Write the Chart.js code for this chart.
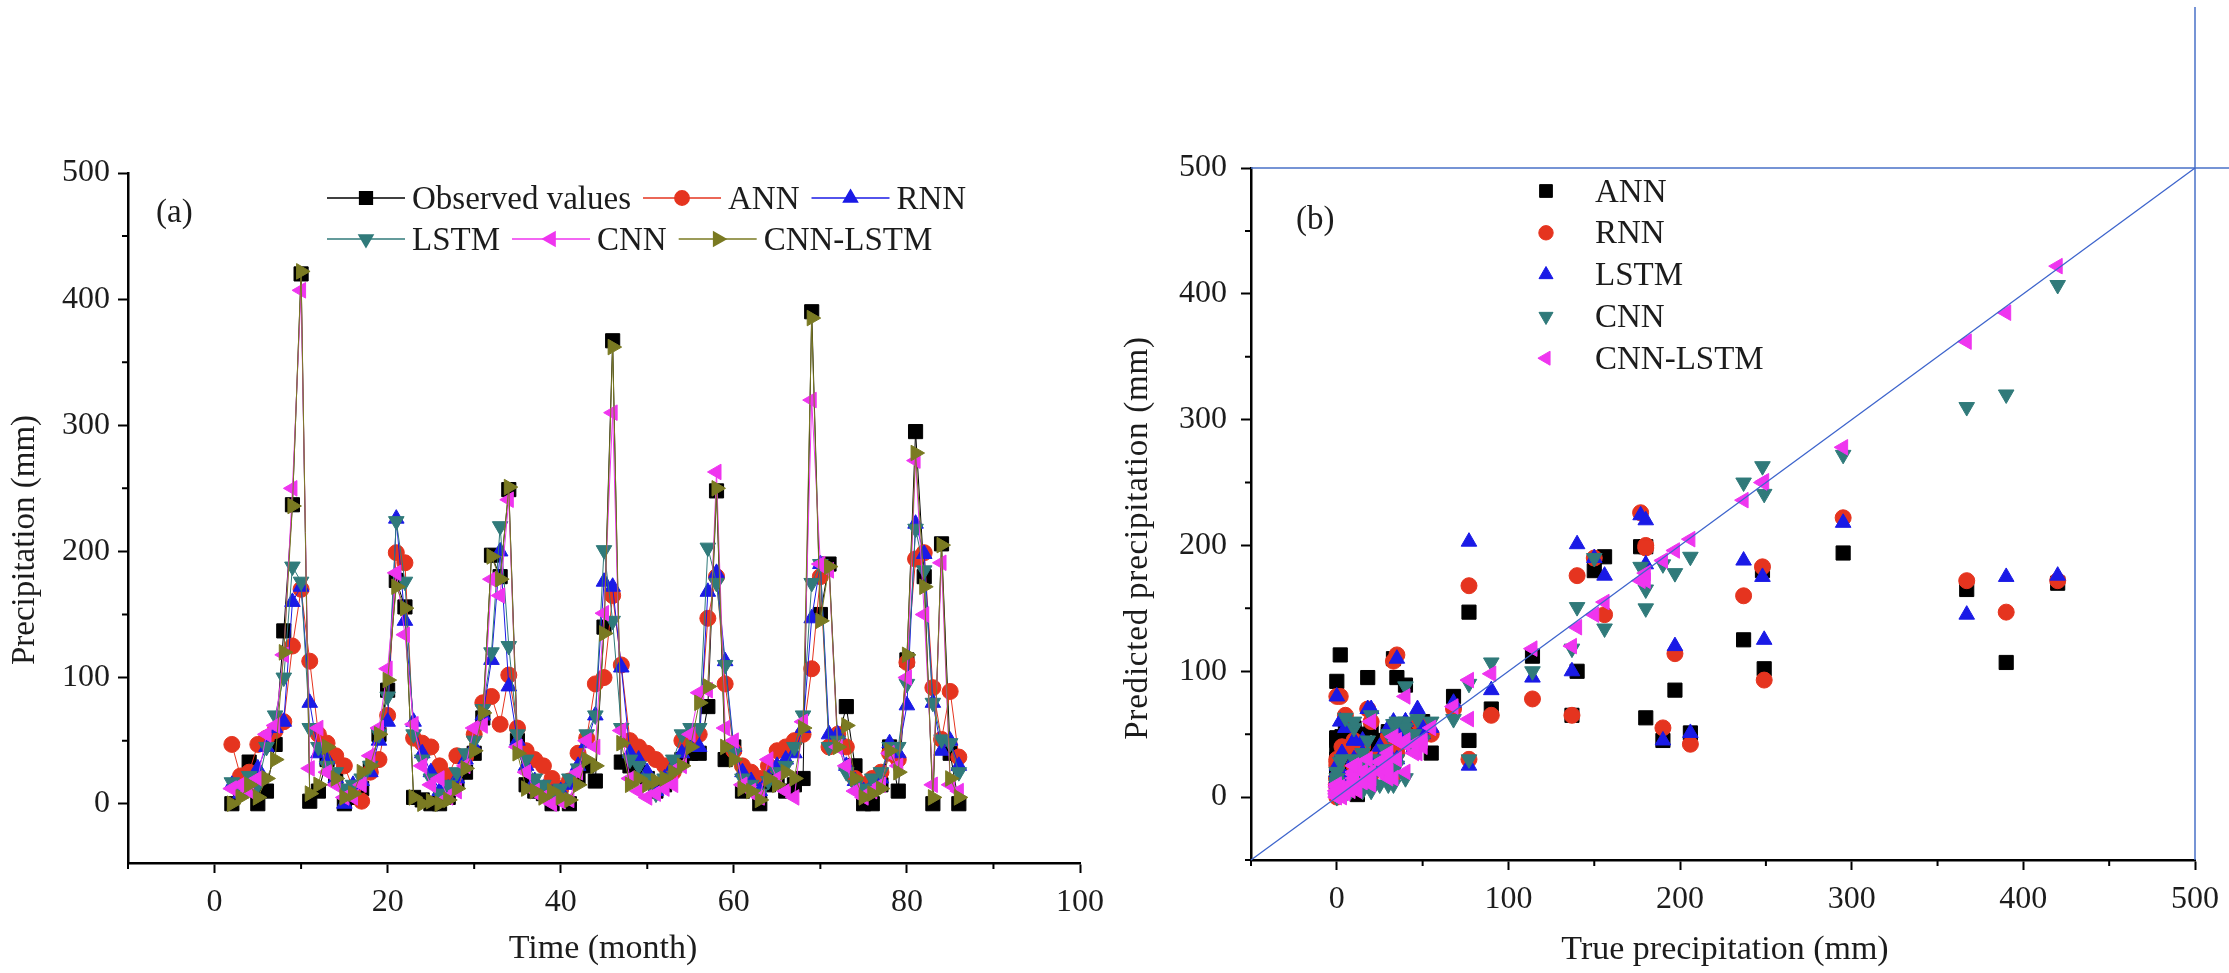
<!DOCTYPE html>
<html>
<head>
<meta charset="utf-8">
<script src="https://cdn.jsdelivr.net/npm/chart.js@4.4.1/dist/chart.umd.min.js"></script>
<style>
  html, body { margin: 0; padding: 0; background: #fff; }
  #wrap { position: relative; width: 2229px; height: 973px; overflow: hidden; background: #fff; }
  canvas { position: absolute; top: 0; }
  #c1 { left: 0; }
  #c2 { left: 1100px; }
</style>
</head>
<body>
<div id="wrap">
  <canvas id="c1" width="1115" height="973"></canvas>
  <canvas id="c2" width="1129" height="973"></canvas>
</div>
<script>
// months shown in panel (a)
const months = [2, 3, 4, 5, 6, 7, 8, 9, 10, 11, 12, 13, 14, 15, 16, 17, 18, 19, 20, 21,
  22, 23, 24, 25, 26, 27, 28, 29, 30, 31, 32, 33, 34, 35, 36, 37, 38, 39, 40, 41,
  42, 43, 44, 45, 46, 47, 48, 49, 50, 51, 52, 53, 54, 55, 56, 57, 58, 59, 60, 61,
  62, 63, 64, 65, 66, 67, 68, 69, 70, 71, 72, 73, 74, 75, 76, 77, 78, 79, 80, 81,
  82, 83, 84, 85, 86];

// precipitation (mm)
const observed = [0, 12, 33, 0, 10, 47, 137, 237, 420, 2, 10, 35, 20, 0, 5, 12, 28, 55, 90, 177,
  156, 5, 3, 0, 0, 5, 18, 25, 40, 68, 197, 180, 249, 50, 15, 10, 8, 0, 5, 0,
  20, 30, 18, 140, 367, 33, 30, 25, 20, 10, 15, 30, 35, 40, 40, 77, 248, 35, 45, 10,
  20, 0, 15, 20, 10, 15, 20, 390, 150, 190, 50, 77, 30, 0, 0, 15, 45, 10, 114, 295,
  180, 0, 206, 40, 0];
const ann = [47, 22, 25, 47, 52, 58, 65, 125, 170, 113, 55, 48, 38, 30, 12, 2, 25, 35, 70, 199,
  191, 52, 48, 45, 30, 22, 38, 37, 55, 80, 85, 63, 102, 60, 42, 35, 30, 20, 12, 18,
  40, 52, 95, 100, 165, 110, 50, 45, 40, 35, 30, 25, 50, 52, 55, 147, 180, 95, 42, 30,
  25, 20, 30, 42, 45, 50, 55, 107, 180, 45, 55, 45, 20, 15, 20, 25, 40, 35, 112, 194,
  199, 92, 51, 89, 37];
const rnn = [15, 8, 18, 28, 45, 60, 65, 160, 172, 80, 40, 35, 20, 0, 15, 18, 25, 50, 65, 226,
  145, 65, 40, 25, 10, 12, 20, 35, 45, 70, 114, 200, 93, 50, 30, 18, 12, 8, 10, 15,
  30, 48, 70, 176, 172, 108, 40, 35, 25, 10, 20, 30, 40, 45, 45, 168, 183, 113, 45, 25,
  18, 10, 20, 30, 35, 40, 60, 147, 190, 55, 55, 30, 18, 10, 15, 20, 48, 40, 78, 222,
  198, 80, 42, 50, 30];
const lstm = [17, 12, 22, 15, 45, 70, 100, 188, 176, 60, 45, 30, 25, 12, 15, 20, 30, 55, 85, 224,
  176, 55, 35, 20, 8, 15, 25, 40, 50, 75, 120, 220, 125, 55, 35, 20, 15, 5, 12, 20,
  28, 55, 70, 201, 145, 60, 35, 30, 20, 8, 20, 35, 55, 60, 60, 203, 175, 110, 40, 20,
  15, 8, 18, 25, 30, 45, 70, 175, 190, 45, 50, 25, 15, 12, 20, 25, 45, 45, 95, 218,
  185, 80, 51, 48, 25];
const cnn = [12, 15, 10, 20, 55, 62, 118, 250, 407, 28, 60, 25, 15, 5, 5, 15, 38, 60, 107, 183,
  134, 63, 30, 15, 20, 5, 10, 30, 60, 62, 178, 165, 241, 45, 25, 10, 5, 0, 2, 3,
  25, 50, 45, 151, 310, 58, 20, 10, 5, 8, 12, 15, 30, 55, 88, 90, 263, 60, 50, 15,
  10, 5, 35, 20, 10, 5, 65, 320, 190, 185, 45, 30, 10, 5, 10, 15, 40, 30, 100, 272,
  150, 15, 191, 15, 10];
const cnnLstm = [0, 5, 15, 5, 20, 35, 120, 236, 422, 8, 15, 45, 20, 5, 8, 25, 30, 55, 98, 172,
  155, 5, 0, 2, 0, 3, 12, 28, 42, 72, 196, 178, 251, 40, 12, 10, 5, 10, 5, 3,
  15, 35, 30, 135, 362, 48, 15, 20, 15, 18, 20, 25, 30, 45, 80, 93, 250, 45, 35, 12,
  10, 3, 20, 15, 25, 20, 60, 385, 145, 188, 45, 62, 20, 5, 8, 12, 42, 25, 118, 278,
  172, 5, 205, 20, 5];

// axis ticks (all ticks, and the ones that carry a label)
const aXTicks = [-10, 0, 10, 20, 30, 40, 50, 60, 70, 80, 90, 100];
const aXLabels = [0, 20, 40, 60, 80, 100];
const aYTicks = [0, 50, 100, 150, 200, 250, 300, 350, 400, 450, 500];
const aYLabels = [0, 100, 200, 300, 400, 500];
const bXTicks = [-50, 0, 50, 100, 150, 200, 250, 300, 350, 400, 450, 500];
const bYTicks = [-50, 0, 50, 100, 150, 200, 250, 300, 350, 400, 450, 500];
const bLabels = [0, 100, 200, 300, 400, 500];

const FONT = 'Liberation Serif';
const TXT = '#1c1c1c';
const BLACK = '#000000', RED = '#e5341f', BLUE = '#1a1ae6', TEAL = '#307a7a', PINK = '#ef35ef', OLIVE = '#7a7a22';

function axis(min, max, ticks, labels, pad, fit) {
  return {
    type: 'linear', min: min, max: max,
    afterBuildTicks: s => { s.ticks = ticks.map(v => ({ value: v })); },
    afterFit: fit,
    ticks: {
      autoSkip: false, maxRotation: 0, minRotation: 0, padding: pad,
      font: { family: FONT, size: 32 }, color: TXT,
      callback: v => labels.includes(v) ? String(v) : ''
    },
    grid: {
      drawOnChartArea: false, drawTicks: true, tickLength: 10, tickWidth: 2, color: '#000',
      // minor ticks are drawn shorter by the minorTicks plugin
      tickColor: c => (c.tick && labels.includes(c.tick.value)) ? '#000' : 'rgba(0,0,0,0)'
    },
    border: { display: true, color: '#000', width: 2.5 },
    title: { display: false }
  };
}

function minorTicks(id, xMinor, yMinor) {
  return {
    id: id,
    afterDraw(chart) {
      const ctx = chart.ctx, xs = chart.scales.x, ys = chart.scales.y;
      ctx.save();
      ctx.strokeStyle = '#000';
      ctx.lineWidth = 2;
      ctx.beginPath();
      xMinor.forEach(v => {
        const px = xs.getPixelForValue(v);
        ctx.moveTo(px, xs.top); ctx.lineTo(px, xs.top + 6);
      });
      yMinor.forEach(v => {
        const py = ys.getPixelForValue(v);
        ctx.moveTo(ys.right, py); ctx.lineTo(ys.right - 6, py);
      });
      ctx.stroke();
      ctx.restore();
    }
  };
}

function drawMark(ctx, s, x, y, r) {
  ctx.save();
  ctx.fillStyle = s.color;
  ctx.strokeStyle = s.color;
  Chart.helpers.drawPoint(ctx, { pointStyle: s.pointStyle, radius: r, rotation: s.rotation || 0, borderWidth: 1 }, x, y);
  ctx.restore();
}

// axis titles and panel tags
function textPlugin(id, items) {
  return {
    id: id,
    afterDraw(chart) {
      const ctx = chart.ctx;
      items.forEach(t => {
        ctx.save();
        ctx.font = t.size + 'px "' + FONT + '"';
        ctx.fillStyle = TXT;
        ctx.textBaseline = 'middle';
        ctx.textAlign = t.align || 'left';
        if (t.spacing) ctx.letterSpacing = t.spacing;
        ctx.translate(t.x, t.y);
        if (t.rot) ctx.rotate(t.rot);
        ctx.fillText(t.text, 0, 0);
        ctx.restore();
      });
    }
  };
}

// ---------- panel (a) ----------
const aSeries = [
  { label: 'Observed values', values: observed, color: BLACK, pointStyle: 'rect', radius: 10, order: 6 },
  { label: 'ANN', values: ann, color: RED, pointStyle: 'circle', radius: 8, order: 5 },
  { label: 'RNN', values: rnn, color: BLUE, pointStyle: 'triangle', radius: 9, rotation: 0, order: 4 },
  { label: 'LSTM', values: lstm, color: TEAL, pointStyle: 'triangle', radius: 9, rotation: 180, order: 3 },
  { label: 'CNN', values: cnn, color: PINK, pointStyle: 'triangle', radius: 9, rotation: 270, order: 2 },
  { label: 'CNN-LSTM', values: cnnLstm, color: OLIVE, pointStyle: 'triangle', radius: 9, rotation: 90, order: 1 }
];

const aLegend = {
  id: 'aLegend',
  afterDraw(chart) {
    const ctx = chart.ctx;
    const rows = [[0, 1, 2], [3, 4, 5]];
    const rowY = [198, 239];
    ctx.save();
    ctx.font = '33px "' + FONT + '"';
    ctx.textBaseline = 'middle';
    rows.forEach((row, r) => {
      let x = 327;
      row.forEach(i => {
        const s = aSeries[i];
        const y = rowY[r];
        ctx.strokeStyle = s.color;
        ctx.lineWidth = 1.5;
        ctx.beginPath();
        ctx.moveTo(x, y);
        ctx.lineTo(x + 78, y);
        ctx.stroke();
        drawMark(ctx, s, x + 39, y, s.radius * 0.9);
        ctx.fillStyle = TXT;
        ctx.fillText(s.label, x + 85, y + 2);
        x += 85 + ctx.measureText(s.label).width + 12;
      });
    });
    ctx.restore();
  }
};

new Chart(document.getElementById('c1'), {
  type: 'line',
  data: {
    datasets: aSeries.map(s => ({
      label: s.label,
      data: months.map((m, i) => ({ x: m, y: s.values[i] })),
      borderColor: s.color,
      backgroundColor: s.color,
      borderWidth: 1,
      pointStyle: s.pointStyle,
      pointRadius: s.radius,
      pointRotation: s.rotation || 0,
      pointBorderWidth: 1,
      pointBorderColor: s.color,
      pointBackgroundColor: s.color,
      tension: 0,
      order: s.order
    }))
  },
  options: {
    responsive: false,
    animation: false,
    devicePixelRatio: 1,
    layout: { padding: { top: 173, right: 35, left: 0, bottom: 0 } },
    plugins: { legend: { display: false }, tooltip: { enabled: false } },
    scales: {
      x: axis(-10, 100, aXTicks, aXLabels, 10, s => { s.height = 110; }),
      y: axis(-47, 500, aYTicks, aYLabels, 8, s => { s.width = 128; })
    }
  },
  plugins: [
    minorTicks('aMinor', aXTicks.filter(v => !aXLabels.includes(v)), aYTicks.filter(v => !aYLabels.includes(v))),
    aLegend,
    textPlugin('aText', [
      { text: '(a)', x: 156, y: 213, size: 33 },
      { text: 'Time (month)', x: 603, y: 949, size: 34, align: 'center' },
      { text: 'Precipitation (mm)', x: 25, y: 540, size: 33, align: 'center', rot: -Math.PI / 2 }
    ])
  ]
});

// ---------- panel (b) ----------
const bSeries = [
  { label: 'ANN', values: ann, color: BLACK, pointStyle: 'rect', radius: 10, order: 5 },
  { label: 'RNN', values: rnn, color: RED, pointStyle: 'circle', radius: 8, order: 4 },
  { label: 'LSTM', values: lstm, color: BLUE, pointStyle: 'triangle', radius: 9, rotation: 0, order: 3 },
  { label: 'CNN', values: cnn, color: TEAL, pointStyle: 'triangle', radius: 9, rotation: 180, order: 2 },
  { label: 'CNN-LSTM', values: cnnLstm, color: PINK, pointStyle: 'triangle', radius: 9, rotation: 270, order: 1 }
];

const bLegend = {
  id: 'bLegend',
  afterDraw(chart) {
    const ctx = chart.ctx;
    ctx.save();
    ctx.font = '33px "' + FONT + '"';
    ctx.textBaseline = 'middle';
    bSeries.forEach((s, i) => {
      const y = 191 + i * 41.8;
      drawMark(ctx, s, 446, y, s.radius * 0.9);
      ctx.fillStyle = TXT;
      ctx.fillText(s.label, 495, y + 2);
    });
    ctx.restore();
  }
};

const blueLines = {
  id: 'blueLines',
  afterDraw(chart) {
    const xs = chart.scales.x, ys = chart.scales.y;
    const x0 = xs.getPixelForValue(-50), y0 = ys.getPixelForValue(-50);
    const x1 = xs.getPixelForValue(500), y1 = ys.getPixelForValue(500);
    const ctx = chart.ctx;
    ctx.save();
    ctx.strokeStyle = '#4a72c8';
    ctx.lineWidth = 1.5;
    ctx.beginPath();
    ctx.moveTo(x0, y1); ctx.lineTo(chart.width, y1);
    ctx.moveTo(x1, 7); ctx.lineTo(x1, y0);
    ctx.stroke();
    ctx.strokeStyle = '#3d64cc';
    ctx.lineWidth = 1.3;
    ctx.beginPath();
    ctx.moveTo(x0, y0); ctx.lineTo(x1, y1);
    ctx.stroke();
    ctx.restore();
  }
};

new Chart(document.getElementById('c2'), {
  type: 'scatter',
  data: {
    datasets: bSeries.map(s => ({
      label: s.label,
      data: observed.map((v, i) => ({ x: v, y: s.values[i] })),
      backgroundColor: s.color,
      borderColor: s.color,
      pointStyle: s.pointStyle,
      pointRadius: s.radius,
      pointRotation: s.rotation || 0,
      pointBorderWidth: 1,
      showLine: false,
      order: s.order
    }))
  },
  options: {
    responsive: false,
    animation: false,
    devicePixelRatio: 1,
    layout: { padding: { top: 168, right: 29, left: 0, bottom: 0 } },
    plugins: { legend: { display: false }, tooltip: { enabled: false } },
    scales: {
      x: axis(-50, 500, bXTicks, bLabels, 10, s => { s.height = 113; }),
      y: axis(-50, 500, bYTicks, bLabels, 14, s => { s.width = 151; })
    }
  },
  plugins: [
    minorTicks('bMinor', bXTicks.filter(v => !bLabels.includes(v)), bYTicks.filter(v => !bLabels.includes(v))),
    blueLines,
    bLegend,
    textPlugin('bText', [
      { text: '(b)', x: 196, y: 220, size: 33 },
      { text: 'True precipitation (mm)', x: 625, y: 950, size: 34, align: 'center' },
      { text: 'Predicted precipitation (mm)', x: 38, y: 538, size: 33, align: 'center', spacing: '0.8px', rot: -Math.PI / 2 }
    ])
  ]
});
</script>
</body>
</html>
